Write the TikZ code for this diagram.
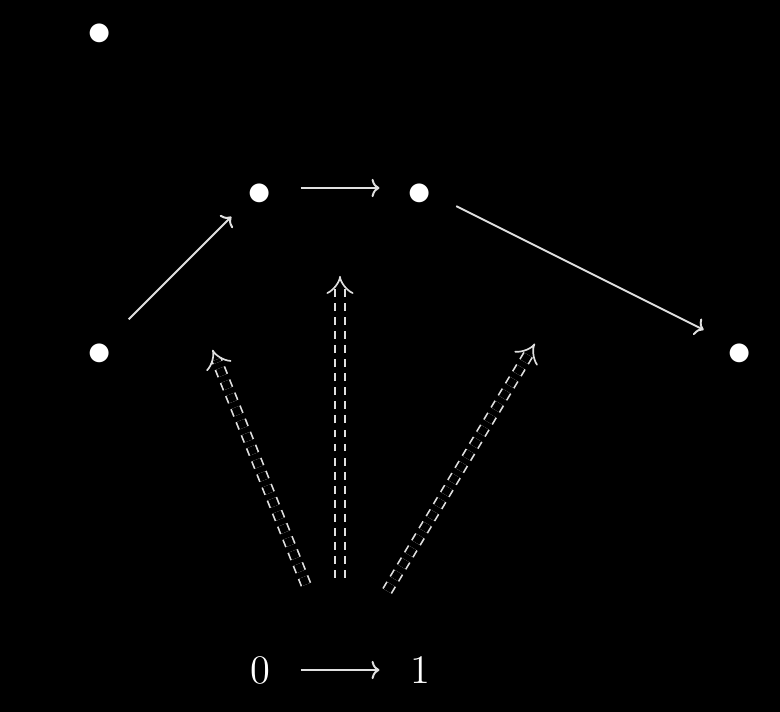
\documentclass[tikz,border=0pt]{standalone}
\usetikzlibrary{arrows.meta, positioning}
\begin{document}
\begin{tikzpicture}[x=1cm, y=1cm, >={To[length=2.8pt, width=6.5pt]}]

  \tikzstyle{obj} = [circle, minimum size=1cm, inner sep=0pt, text=white, font=\Large];
  \tikzstyle{pt} = [obj, font=\LARGE];
  \tikzstyle{map} = [->, draw=white!88!black, line width=0.7pt];
  \tikzstyle{cell} = [-{Implies[length=3.5pt]}, draw=white!88!black, line width=0.6pt,
    double=black, double distance=2.8pt, dash pattern=on 2.8pt off 2.2pt,
    shorten <=1.15cm, shorten >=1.1cm];
  \newcommand{\pnt}{\raisebox{-0.225cm}[0pt][0pt]{$\bullet$}}

  \useasboundingbox (0,0) rectangle (9.75,8.9);
  \fill[black] (0,0) rectangle (9.75,8.9);

  % top row
  \node[pt, minimum size=0pt] (a) at (1.25,8.55) {\pnt};
  \node[pt] (b) at (3.25,6.55) {\pnt};
  \node[pt] (c) at (5.25,6.55) {\pnt};
  \node[pt] (d) at (1.25,4.55) {\pnt};
  \node[pt] (e) at (9.25,4.55) {\pnt};

  % interval
  \node[obj] (zero) at (3.25,0.525) {$0$};
  \node[obj] (one)  at (5.25,0.525) {$1$};

  \draw[map] (d) -- coordinate (db) (b);
  \draw[map] (b) -- coordinate (bc) (c);
  \draw[map] (c) -- coordinate (ce) (e);
  \draw[map] (zero) -- coordinate (zo) (one);

  \draw[cell] (zo) -- (db);
  \draw[cell] (zo) -- (bc);
  \draw[cell] (zo) -- (ce);
\end{tikzpicture}
\end{document}
